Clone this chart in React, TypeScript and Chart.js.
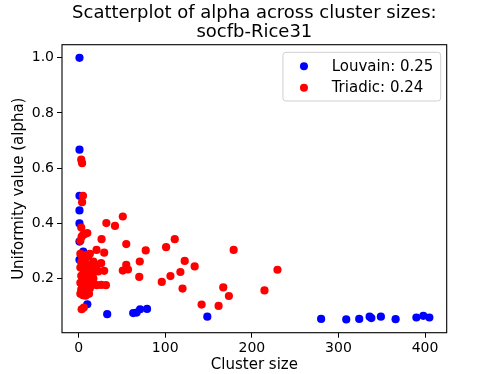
import React, { useEffect, useRef } from "react";
import { Chart, registerables } from "chart.js";

Chart.register(...registerables);

const titleLines = ["Scatterplot of alpha across cluster sizes:", "socfb-Rice31"];
const xLabel = "Cluster size";
const yLabel = "Uniformity value (alpha)";
const louvainLabel = "Louvain: 0.25";
const triadicLabel = "Triadic: 0.24";

const xTicks = [0, 100, 200, 300, 400];
const yTicks = [0.2, 0.4, 0.6, 0.8, 1.0];

// Louvain cluster sizes and alpha values
const louvainX = [1, 1, 1, 1, 1, 1, 5.3, 1, 10, 33, 63, 67, 71, 79, 148.6, 280, 309, 324, 336, 338, 349, 366, 390, 398, 405];
const louvainY = [1.0, 0.667, 0.5, 0.447, 0.4, 0.334, 0.298, 0.268, 0.107, 0.071, 0.075, 0.077, 0.089, 0.09, 0.062, 0.054, 0.052, 0.054, 0.062, 0.057, 0.062, 0.053, 0.059, 0.065, 0.059];

// Triadic cluster sizes and alpha values
const triadicX = [
  2, 4, 7, 11, 17, 3, 5, 8, 13, 15, 2, 6, 9, 12, 16, 3, 5, 8, 11, 14, 2, 4, 7, 10, 13, 3, 6, 9, 2, 5, 8, 12,
  17, 19, 21, 26, 21, 29.5, 22.6, 18, 21, 26, 31.5, 20.7, 29.5, 26.5, 7, 3.5, 2, 3, 4, 5, 3, 4, 3.5, 6,
  9, 13, 5, 10, 5.4,
  32, 42, 51, 55, 77.5, 101, 111, 70.6, 122.5, 134, 55, 51, 57, 117.5, 106, 70, 96, 120, 142, 179, 229.6, 214.6, 167, 173.5, 161.6
];
const triadicY = [
  0.29, 0.28, 0.274, 0.28, 0.262, 0.26, 0.25, 0.255, 0.25, 0.24, 0.24, 0.23, 0.225, 0.22, 0.215, 0.21, 0.2, 0.205, 0.195, 0.19, 0.185, 0.175, 0.18, 0.17, 0.165, 0.16, 0.155, 0.15, 0.145, 0.14, 0.138, 0.145,
  0.2, 0.23, 0.25, 0.256, 0.232, 0.228, 0.226, 0.18, 0.176, 0.177, 0.176, 0.304, 0.294, 0.343, 0.362, 0.352, 0.337, 0.385, 0.477, 0.5, 0.631, 0.618, 0.089, 0.095,
  0.286, 0.29, 0.28, 0.365, 0.359,
  0.401, 0.391, 0.425, 0.325, 0.302, 0.314, 0.343, 0.262, 0.264, 0.244, 0.25, 0.229, 0.233, 0.224, 0.209, 0.206, 0.188, 0.164, 0.106, 0.304, 0.232, 0.157, 0.168, 0.137, 0.101
];

const FONT = "'DejaVu Sans', sans-serif";

const titlePlugin = {
  id: "axesTitle",
  afterDraw(chart: any) {
    const { ctx, chartArea } = chart;
    ctx.save();
    ctx.font = `18px ${FONT}`;
    ctx.fillStyle = "#000";
    ctx.textAlign = "center";
    ctx.textBaseline = "middle";
    const cx = (chartArea.left + chartArea.right) / 2;
    titleLines.forEach((line, i) => {
      ctx.fillText(line, cx, 13 + i * 19);
    });
    ctx.restore();
  },
};

const framePlugin = {
  id: "frame",
  afterDatasetsDraw(chart: any) {
    const { ctx, chartArea } = chart;
    ctx.save();
    ctx.strokeStyle = "#000";
    ctx.lineWidth = 1.1;
    ctx.strokeRect(chartArea.left, chartArea.top, chartArea.right - chartArea.left, chartArea.bottom - chartArea.top);
    ctx.restore();
  },
};

const legendPlugin = {
  id: "innerLegend",
  afterDraw(chart: any) {
    const { ctx, chartArea } = chart;
    ctx.save();
    ctx.font = `15px ${FONT}`;
    const items = chart.data.datasets.map((d: any) => ({ label: d.label, color: d.backgroundColor }));
    const tw = Math.max(...items.map((i: any) => ctx.measureText(i.label).width));
    const w = tw + 56;
    const h = 48.7;
    const right = chartArea.right - 6;
    const top = chartArea.top + 7.6;
    const left = right - w;
    ctx.beginPath();
    if ((ctx as any).roundRect) (ctx as any).roundRect(left, top, w, h, 3);
    else ctx.rect(left, top, w, h);
    ctx.fillStyle = "rgba(255,255,255,0.8)";
    ctx.fill();
    ctx.strokeStyle = "#d0d0d0";
    ctx.lineWidth = 1;
    ctx.stroke();
    items.forEach((it: any, i: number) => {
      const y = top + 14 + i * 21.4;
      ctx.beginPath();
      ctx.arc(left + 21, y, 4, 0, Math.PI * 2);
      ctx.fillStyle = it.color;
      ctx.fill();
      ctx.fillStyle = "#000";
      ctx.textBaseline = "middle";
      ctx.textAlign = "left";
      ctx.fillText(it.label, left + 48.7, y + 0.5);
    });
    ctx.restore();
  },
};

export default function App() {
  const ref = useRef<HTMLCanvasElement | null>(null);
  useEffect(() => {
    if (!ref.current) return;
    Chart.defaults.font.family = FONT;
    const chart = new Chart(ref.current, {
      type: "scatter",
      data: {
        datasets: [
          {
            label: louvainLabel,
            data: louvainX.map((x, i) => ({ x, y: louvainY[i] })),
            backgroundColor: "#0000ff",
            borderWidth: 0,
            pointRadius: 4.1,
            order: 1,
          },
          {
            label: triadicLabel,
            data: triadicX.map((x, i) => ({ x, y: triadicY[i] })),
            backgroundColor: "#ff0000",
            borderWidth: 0,
            pointRadius: 4.1,
            order: 0,
          },
        ],
      },
      options: {
        responsive: false,
        animation: false,
        devicePixelRatio: 1,
        layout: { padding: { left: 0, right: 51.3, top: 44.7, bottom: 0 } },
        plugins: {
          legend: { display: false },
          tooltip: { enabled: false },
          title: { display: false },
        },
        scales: {
          x: {
            type: "linear",
            min: -19.2,
            max: 425,
            afterBuildTicks: (scale: any) => {
              scale.ticks = xTicks.map((v) => ({ value: v }));
            },
            afterFit: (scale: any) => {
              scale.height = 41.3;
            },
            border: { display: false },
            grid: { display: true, drawOnChartArea: false, drawTicks: true, tickLength: 5, color: "#000", tickColor: "#000" },
            ticks: {
              autoSkip: false,
              maxRotation: 0,
              padding: 2,
              color: "#000",
              font: { size: 14, family: FONT },
              callback: (v: any) => String(v),
            },
            title: {
              display: true,
              text: xLabel,
              color: "#000",
              font: { size: 15, family: FONT },
              padding: { top: 0, bottom: 0 },
            },
          },
          y: {
            type: "linear",
            min: 0.004,
            max: 1.0474,
            afterBuildTicks: (scale: any) => {
              scale.ticks = yTicks.map((v) => ({ value: v }));
            },
            afterFit: (scale: any) => {
              scale.width = 62;
            },
            border: { display: false },
            grid: { display: true, drawOnChartArea: false, drawTicks: true, tickLength: 5, color: "#000", tickColor: "#000" },
            ticks: {
              autoSkip: false,
              padding: 3,
              color: "#000",
              font: { size: 14, family: FONT },
              callback: (v: any) => Number(v).toFixed(1),
            },
            title: {
              display: true,
              text: yLabel,
              color: "#000",
              font: { size: 15, family: FONT },
              padding: { top: 10, bottom: 0 },
            },
          },
        },
      },
      plugins: [framePlugin, legendPlugin, titlePlugin],
    } as any);
    return () => chart.destroy();
  }, []);
  return (
    <div style={{ position: "absolute", left: 0, top: 0, width: 498, height: 374, background: "#fff" }}>
      <canvas ref={ref} width={498} height={374} style={{ display: "block", width: 498, height: 374 }} />
    </div>
  );
}
